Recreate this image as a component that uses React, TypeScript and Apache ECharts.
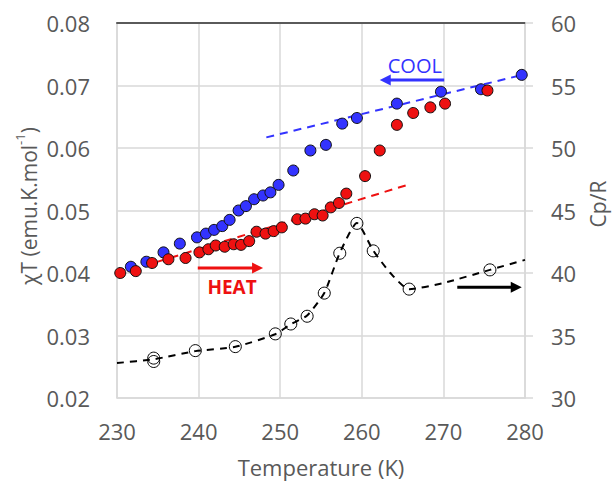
import React, { useEffect, useRef } from "react";
import * as echarts from "echarts";

// Cooling (blue) chi*T data
const coolT = [231.7, 233.6, 235.7, 237.7, 239.8, 240.9, 241.9, 242.9, 243.8, 244.9, 245.8, 246.8, 247.9, 248.8, 249.8, 251.6, 253.7, 255.6, 257.6, 259.4, 264.3, 269.7, 274.6, 279.6];
const coolChi = [0.0410, 0.0418, 0.0433, 0.0447, 0.0457, 0.0463, 0.0469, 0.0475, 0.0485, 0.0500, 0.0507, 0.0518, 0.0524, 0.0529, 0.0541, 0.0564, 0.0596, 0.0605, 0.0639, 0.0648, 0.0671, 0.0690, 0.0694, 0.0717];

// Heating (red) chi*T data
const heatT = [230.4, 232.3, 234.3, 236.3, 238.4, 240.1, 241.2, 242.1, 243.2, 244.3, 245.2, 246.2, 247.1, 248.2, 249.2, 250.2, 252.1, 253.1, 254.2, 255.2, 256.2, 257.2, 258.1, 260.4, 262.2, 264.3, 266.3, 268.4, 270.2, 275.4];
const heatChi = [0.0400, 0.0403, 0.0416, 0.0422, 0.0424, 0.0433, 0.0438, 0.0444, 0.0442, 0.0446, 0.0445, 0.0451, 0.0466, 0.0463, 0.0467, 0.0473, 0.0486, 0.0487, 0.0494, 0.0492, 0.0505, 0.0512, 0.0527, 0.0555, 0.0596, 0.0637, 0.0656, 0.0665, 0.0671, 0.0692];

// Heat capacity Cp/R (open circles)
const cpT = [234.5, 234.5, 239.6, 244.5, 249.4, 251.3, 253.3, 255.4, 257.3, 259.4, 261.4, 265.8, 275.7];
const cpVal = [33.19, 32.92, 33.79, 34.11, 35.13, 35.92, 36.54, 38.39, 41.58, 43.97, 41.77, 38.71, 40.25];

// Dashed guide lines
const coolFitT = [248.3, 280];
const coolFitChi = [0.0617, 0.0718];
const heatFitT = [230, 265.6];
const heatFitChi = [0.0398, 0.0541];
const cpFitT = [230, 234.5, 239.6, 244.5, 249.4, 251.3, 253.3, 255.4, 257.3, 259.4, 261.4, 263.5, 265.8, 270, 275.7, 280];
const cpFitVal = [32.8, 33.1, 33.75, 34.1, 35.1, 35.9, 36.6, 38.4, 41.6, 44.0, 41.8, 40.0, 38.7, 39.2, 40.25, 41.05];

// Axis settings
const xRange = [230, 280];
const xStep = 10;
const chiRange = [0.02, 0.08];
const chiStep = 0.01;
const cpRange = [30, 60];
const cpStep = 5;

// Annotations (data coordinates)
const coolArrow = { from: [270.1, 0.0709], to: [262.2, 0.0709] };
const heatArrow = { from: [239.9, 0.0408], to: [247.9, 0.0408] };
const cpArrow = { from: [271.7, 38.87], to: [279.6, 38.87] };
const coolLabelPos = [266.5, 0.0732];
const heatLabelPos = [244.1, 0.0377];

const FONT = "'Open Sans', 'Liberation Sans', sans-serif";
const TXT = "#595959";
const GRID = "#d9d9d9";
const BLUE = "#3333ff";
const RED = "#ee1111";

const zip = (a: number[], b: number[]) => a.map((v, i) => [v, b[i]]);

export default function App() {
  const ref = useRef<HTMLDivElement>(null);
  useEffect(() => {
    if (!ref.current) return;
    const chart = echarts.init(ref.current, null, { renderer: "svg" });
    const option: any = {
      animation: false,
      backgroundColor: "#fff",
      grid: { left: 117, right: 87, top: 23, bottom: 84 },
      xAxis: [
        {
          type: "value",
          min: xRange[0],
          max: xRange[1],
          interval: xStep,
          name: "Temperature (K)",
          nameLocation: "middle",
          nameGap: 58,
          nameTextStyle: { color: TXT, fontFamily: FONT, fontSize: 22 },
          axisLine: { show: true, lineStyle: { color: GRID, width: 1.5 } },
          axisTick: { show: false },
          axisLabel: { color: TXT, fontFamily: FONT, fontSize: 22, margin: 22 },
          splitLine: { show: true, lineStyle: { color: GRID, width: 1.5 } },
        },
        {
          type: "value",
          position: "top",
          min: xRange[0],
          max: xRange[1],
          axisLine: { show: true, lineStyle: { color: "#5a5a5a", width: 2 } },
          axisTick: { show: false },
          axisLabel: { show: false },
          splitLine: { show: false },
        },
      ],
      yAxis: [
        {
          type: "value",
          min: chiRange[0],
          max: chiRange[1],
          interval: chiStep,
          axisLine: { show: true, lineStyle: { color: GRID, width: 1.5 } },
          axisTick: { show: false },
          axisLabel: {
            color: TXT,
            fontFamily: FONT,
            fontSize: 22,
            margin: 27,
            formatter: (v: number) => v.toFixed(2),
          },
          splitLine: { show: true, lineStyle: { color: GRID, width: 1.5 } },
        },
        {
          type: "value",
          position: "right",
          min: cpRange[0],
          max: cpRange[1],
          interval: cpStep,
          axisLine: { show: true, lineStyle: { color: GRID, width: 1.5 } },
          axisTick: { show: true, length: 8, inside: false, lineStyle: { color: GRID, width: 1.5 } },
          axisLabel: { color: TXT, fontFamily: FONT, fontSize: 22, margin: 26 },
          splitLine: { show: false },
        },
      ],
      series: [
        {
          type: "line",
          data: zip(coolFitT, coolFitChi),
          symbol: "none",
          lineStyle: { color: BLUE, width: 2, type: [8, 6] },
          z: 2,
        },
        {
          type: "line",
          data: zip(heatFitT, heatFitChi),
          symbol: "none",
          lineStyle: { color: RED, width: 2, type: [8, 6] },
          z: 2,
        },
        {
          type: "line",
          yAxisIndex: 1,
          data: zip(cpFitT, cpFitVal),
          symbol: "none",
          smooth: 0.2,
          lineStyle: { color: "#000", width: 2, type: [7, 6] },
          z: 2,
        },
        {
          type: "scatter",
          data: zip(coolT, coolChi),
          symbol: "circle",
          symbolSize: 11,
          itemStyle: { color: BLUE, borderColor: "#111", borderWidth: 1, opacity: 1 },
          z: 3,
        },
        {
          type: "scatter",
          data: zip(heatT, heatChi),
          symbol: "circle",
          symbolSize: 11,
          itemStyle: { color: RED, borderColor: "#111", borderWidth: 1, opacity: 1 },
          z: 4,
        },
        {
          type: "scatter",
          yAxisIndex: 1,
          data: zip(cpT, cpVal),
          symbol: "circle",
          symbolSize: 12,
          itemStyle: { color: "rgba(255,255,255,0)", borderColor: "#000", borderWidth: 1, opacity: 1 },
          z: 5,
        },
      ],
    };
    chart.setOption(option);

    const px = (pt: number[], right = false) =>
      chart.convertToPixel({ xAxisIndex: 0, yAxisIndex: right ? 1 : 0 } as any, pt) as number[];

    const arrow = (a: { from: number[]; to: number[] }, color: string, right = false) => {
      const s = px(a.from, right);
      const t = px(a.to, right);
      const dir = Math.sign(t[0] - s[0]);
      const head = 11;
      const half = 5.5;
      return {
        type: "group",
        children: [
          {
            type: "line",
            shape: { x1: s[0], y1: s[1], x2: t[0] - dir * head + dir * 1, y2: t[1] },
            style: { stroke: color, lineWidth: 3 },
          },
          {
            type: "polygon",
            shape: {
              points: [
                [t[0], t[1]],
                [t[0] - dir * head, t[1] - half],
                [t[0] - dir * head, t[1] + half],
              ],
            },
            style: { fill: color },
          },
        ],
      };
    };

    const coolPos = px(coolLabelPos);
    const heatPos = px(heatLabelPos);

    chart.setOption({
      graphic: [
        arrow(coolArrow, BLUE),
        arrow(heatArrow, RED),
        arrow(cpArrow, "#000", true),
        {
          type: "text",
          x: coolPos[0],
          y: coolPos[1],
          style: {
            text: "COOL",
            fill: BLUE,
            font: `20px ${FONT}`,
            align: "center",
            verticalAlign: "middle",
          },
        },
        {
          type: "text",
          x: heatPos[0],
          y: heatPos[1],
          style: {
            text: "HEAT",
            fill: RED,
            font: `bold 19px ${FONT}`,
            align: "center",
            verticalAlign: "middle",
          },
        },
        {
          type: "text",
          x: 26,
          y: 206,
          rotation: Math.PI / 2,
          style: {
            text: "{b|χT (emu.K.mol}{s|-1}{b|)}",
            align: "center",
            verticalAlign: "middle",
            rich: {
              b: { fontFamily: FONT, fontSize: 21, fill: TXT, lineHeight: 26, verticalAlign: "bottom" },
              s: { fontFamily: FONT, fontSize: 13, fill: TXT, lineHeight: 26, verticalAlign: "top", padding: [0, 0, 8, 0] },
            },
          },
        },
        {
          type: "text",
          x: 598,
          y: 204,
          rotation: Math.PI / 2,
          style: {
            text: "Cp/R",
            fill: TXT,
            font: `21px ${FONT}`,
            align: "center",
            verticalAlign: "middle",
          },
        },
      ],
    });

    return () => chart.dispose();
  }, []);

  return (
    <div
      ref={ref}
      style={{ position: "fixed", left: 0, top: 0, width: 612, height: 483, background: "#fff" }}
    />
  );
}
